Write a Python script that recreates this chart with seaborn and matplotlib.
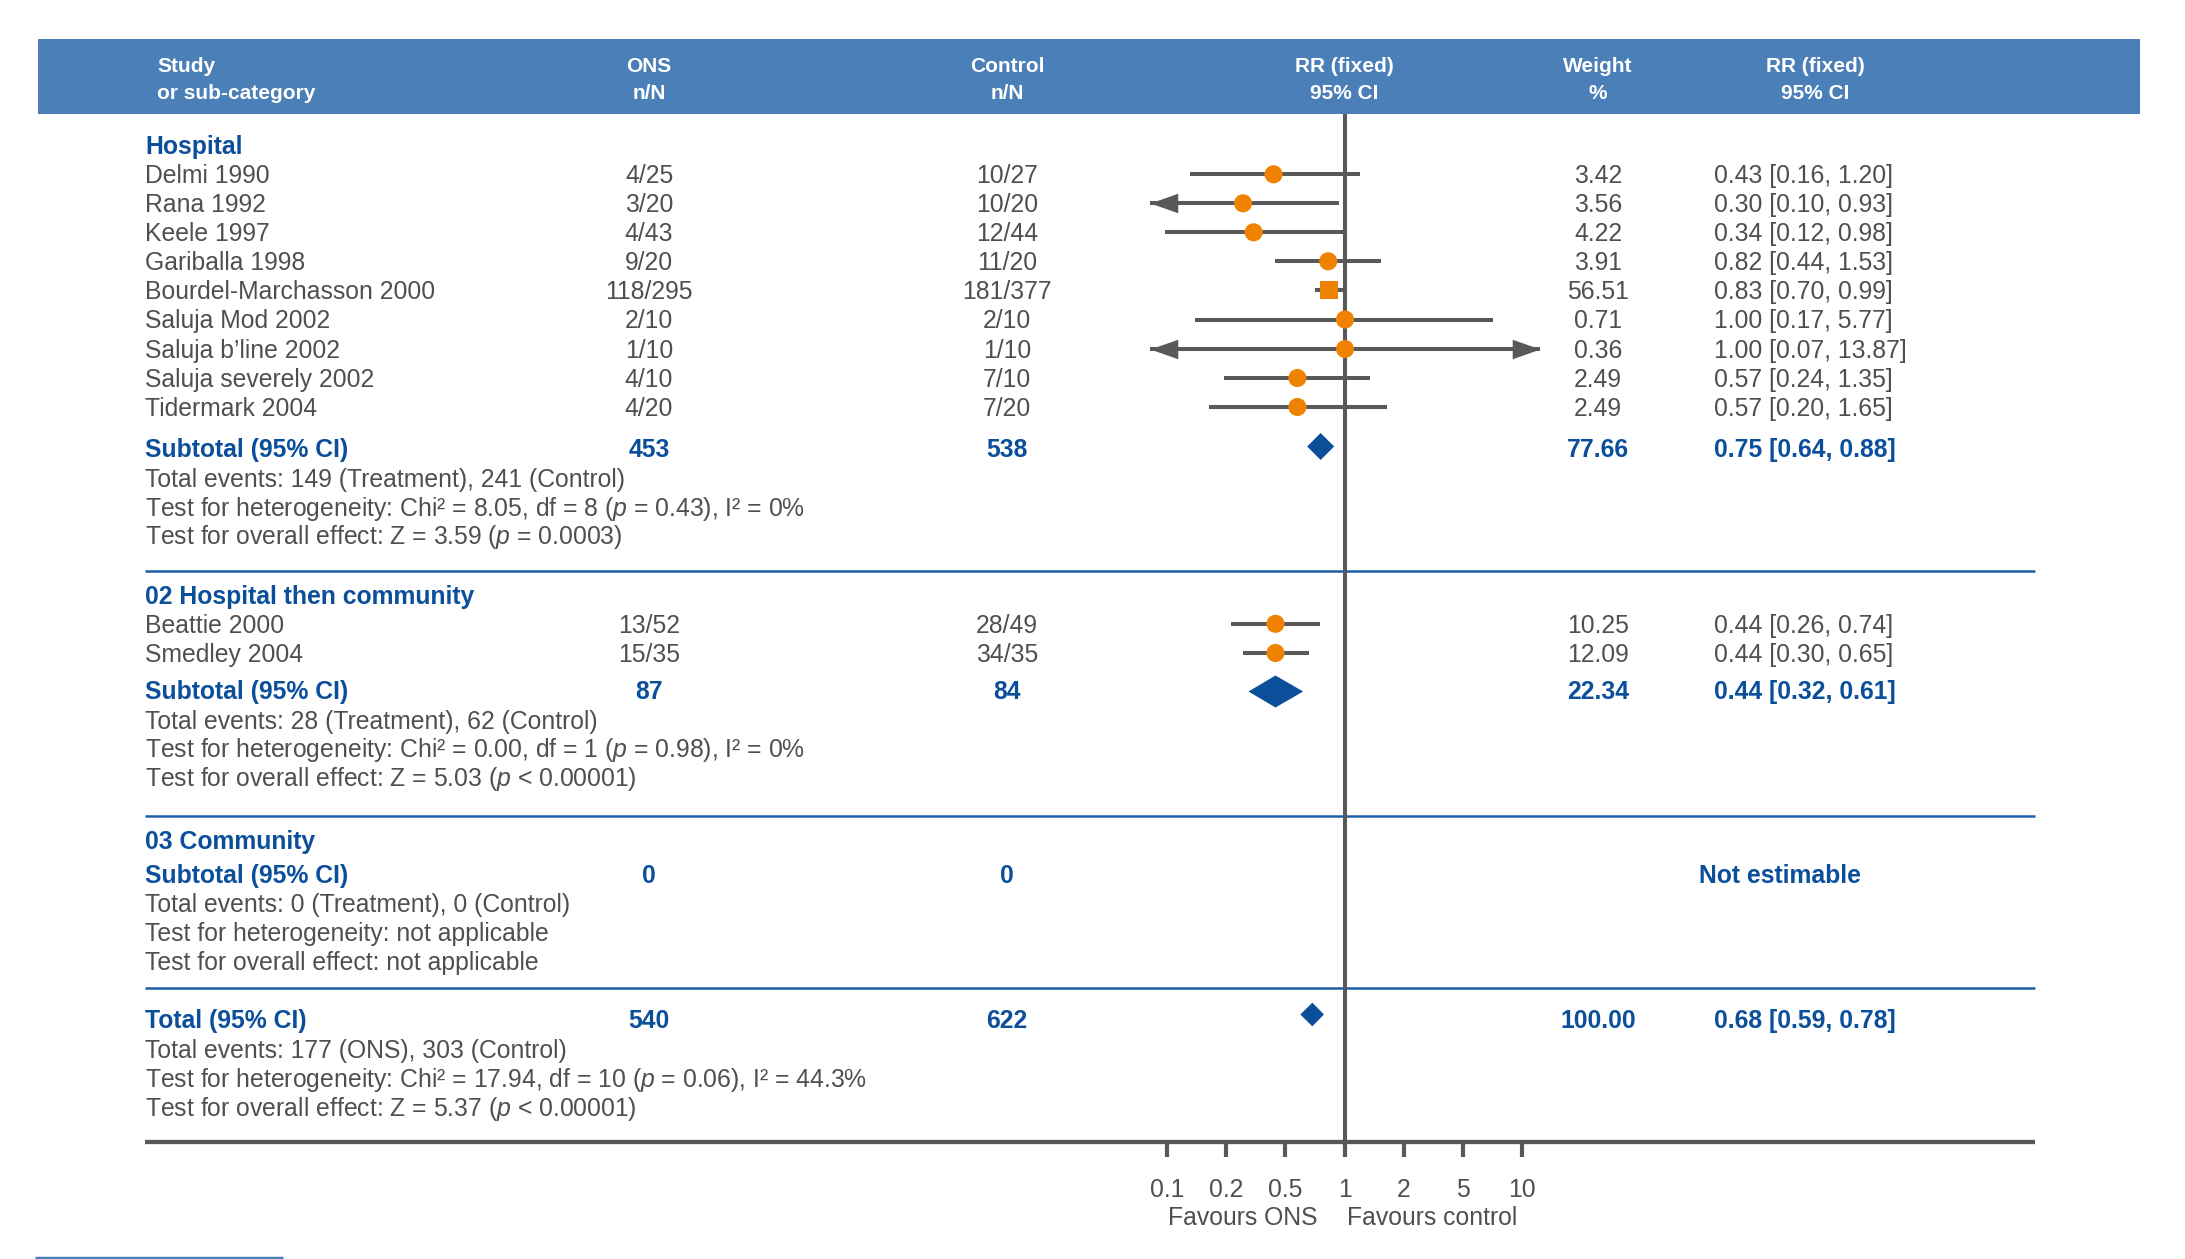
import matplotlib
matplotlib.use("Agg")
import matplotlib.pyplot as plt
import seaborn as sns
import numpy as np
import pandas as pd
from matplotlib.patches import Rectangle, Polygon

# ---------------- data ----------------
headers = ["Study\nor sub-category", "ONS\nn/N", "Control\nn/N", "RR (fixed)\n95% CI", "Weight\n%", "RR (fixed)\n95% CI"]

group_titles = ["Hospital", "02 Hospital then community", "03 Community"]

g1_studies = ["Delmi 1990", "Rana 1992", "Keele 1997", "Gariballa 1998", "Bourdel-Marchasson 2000",
              "Saluja Mod 2002", "Saluja b\u2019line 2002", "Saluja severely 2002", "Tidermark 2004"]
g1_ons = ["4/25", "3/20", "4/43", "9/20", "118/295", "2/10", "1/10", "4/10", "4/20"]
g1_ctrl = ["10/27", "10/20", "12/44", "11/20", "181/377", "2/10", "1/10", "7/10", "7/20"]
g1_weight = [3.42, 3.56, 4.22, 3.91, 56.51, 0.71, 0.36, 2.49, 2.49]
g1_rr = [0.43, 0.30, 0.34, 0.82, 0.83, 1.00, 1.00, 0.57, 0.57]
g1_lo = [0.16, 0.10, 0.12, 0.44, 0.70, 0.17, 0.07, 0.24, 0.20]
g1_hi = [1.20, 0.93, 0.98, 1.53, 0.99, 5.77, 13.87, 1.35, 1.65]

g2_studies = ["Beattie 2000", "Smedley 2004"]
g2_ons = ["13/52", "15/35"]
g2_ctrl = ["28/49", "34/35"]
g2_weight = [10.25, 12.09]
g2_rr = [0.44, 0.44]
g2_lo = [0.26, 0.30]
g2_hi = [0.74, 0.65]

sub_labels = ["Subtotal (95% CI)", "Subtotal (95% CI)", "Subtotal (95% CI)"]
sub_ons = [453, 87, 0]
sub_ctrl = [538, 84, 0]
sub_weight = [77.66, 22.34, None]
sub_rr = [0.75, 0.44, None]
sub_lo = [0.64, 0.32, None]
sub_hi = [0.88, 0.61, None]

total_label = "Total (95% CI)"
total_ons = 540
total_ctrl = 622
total_weight = 100.00
total_rr = 0.68
total_lo = 0.59
total_hi = 0.78

info_g1 = ["Total events: 149 (Treatment), 241 (Control)",
           "Test for heterogeneity: Chi\u00b2 = 8.05, df = 8 ($p$ = 0.43), I\u00b2 = 0%",
           "Test for overall effect: Z = 3.59 ($p$ = 0.0003)"]
info_g2 = ["Total events: 28 (Treatment), 62 (Control)",
           "Test for heterogeneity: Chi\u00b2 = 0.00, df = 1 ($p$ = 0.98), I\u00b2 = 0%",
           "Test for overall effect: Z = 5.03 ($p$ < 0.00001)"]
info_g3 = ["Total events: 0 (Treatment), 0 (Control)",
           "Test for heterogeneity: not applicable",
           "Test for overall effect: not applicable"]
info_total = ["Total events: 177 (ONS), 303 (Control)",
              "Test for heterogeneity: Chi\u00b2 = 17.94, df = 10 ($p$ = 0.06), I\u00b2 = 44.3%",
              "Test for overall effect: Z = 5.37 ($p$ < 0.00001)"]

tick_values = ["0.1", "0.2", "0.5", "1", "2", "5", "10"]
favours = ["Favours ONS", "Favours control"]
not_estimable = "Not estimable"

# ---------------- style ----------------
sns.set_theme(style="white")
plt.rcParams["font.family"] = ["Liberation Sans", "DejaVu Sans"]
plt.rcParams["mathtext.fontset"] = "custom"
plt.rcParams["mathtext.rm"] = "Liberation Sans"
plt.rcParams["mathtext.it"] = "Liberation Sans:italic"

GRAY = "#4f4f4f"
BLUE = "#0b4f9b"
ORANGE = "#ef8200"
LGRAY = "#595959"
HEAD = "#4a7fb8"
SEP = "#1d5ea8"
FS = 17.8
FSPX = FS * 100 / 72.0
CAPH = 0.358 * FSPX

W, H = 2185, 1259
fig = plt.figure(figsize=(W / 100, H / 100), dpi=100)
fig.patch.set_facecolor("white")

bg = fig.add_axes([0, 0, 1, 1])
bg.set_xlim(0, W)
bg.set_ylim(H, 0)
bg.axis("off")

# layout (pixel rows)
X_LEFT, X_ONS, X_CTRL, X_W, X_RR = 145, 649, 1007, 1598, 1714
y_g1_title = 145.5
y_g1 = [174.3, 203.3, 232.3, 261.3, 290.3, 319.5, 349.0, 378.0, 407.0]
y_sub = [448.5, 690.5, 874.0]
y_info = [[478, 507, 535.5], [720, 748.5, 777.5], [903.5, 932.5, 961.5]]
y_titles = [145.5, 595.5, 840.5]
y_g2 = [623.8, 653.0]
y_seps = [571, 815.5, 988]
y_total = 1019.5
y_info_total = [1049.3, 1078, 1107.3]
Y_AXIS = 1142

def txt(x, yc, s, ha="left", color=GRAY, bold=False, size=FS):
    bg.text(x, yc + 0.358 * size * 100 / 72.0, s, ha=ha, va="baseline", color=color,
            fontsize=size, fontweight="bold" if bold else "normal")

# header band
bg.add_patch(Rectangle((38, 39), 2102, 75, facecolor=HEAD, edgecolor="none"))
hx = [157, 649, 1007, 1344, 1598, 1815]
hha = ["left", "center", "center", "center", "center", "center"]
for x, s, ha in zip(hx, headers, hha):
    l1, l2 = s.split("\n")
    txt(x, 65, l1, ha=ha, color="white", bold=True, size=15)
    txt(x, 92, l2, ha=ha, color="white", bold=True, size=15)

# group titles
for yt, t in zip(y_titles, group_titles):
    txt(X_LEFT, yt, t, color=BLUE, bold=True)

# study rows text
def study_rows(names, ons, ctrl, wts, rr, lo, hi, ys):
    for n, o, c, w, r, l, h, y in zip(names, ons, ctrl, wts, rr, lo, hi, ys):
        txt(X_LEFT, y, n)
        txt(X_ONS, y, o, ha="center")
        txt(X_CTRL, y, c, ha="center")
        txt(X_W, y, f"{w:.2f}", ha="center")
        txt(X_RR, y, f"{r:.2f} [{l:.2f}, {h:.2f}]")

study_rows(g1_studies, g1_ons, g1_ctrl, g1_weight, g1_rr, g1_lo, g1_hi, y_g1)
study_rows(g2_studies, g2_ons, g2_ctrl, g2_weight, g2_rr, g2_lo, g2_hi, y_g2)

# subtotal rows
for i in range(3):
    y = y_sub[i]
    txt(X_LEFT, y, sub_labels[i], color=BLUE, bold=True)
    txt(X_ONS, y, str(sub_ons[i]), ha="center", color=BLUE, bold=True)
    txt(X_CTRL, y, str(sub_ctrl[i]), ha="center", color=BLUE, bold=True)
    if sub_rr[i] is not None:
        txt(X_W, y, f"{sub_weight[i]:.2f}", ha="center", color=BLUE, bold=True)
        txt(X_RR, y, f"{sub_rr[i]:.2f} [{sub_lo[i]:.2f}, {sub_hi[i]:.2f}]", color=BLUE, bold=True)
    else:
        txt(1699, y, not_estimable, color=BLUE, bold=True)

for infos, ys in zip([info_g1, info_g2, info_g3], y_info):
    for s, y in zip(infos, ys):
        txt(X_LEFT, y, s)

# total row
txt(X_LEFT, y_total, total_label, color=BLUE, bold=True)
txt(X_ONS, y_total, str(total_ons), ha="center", color=BLUE, bold=True)
txt(X_CTRL, y_total, str(total_ctrl), ha="center", color=BLUE, bold=True)
txt(X_W, y_total, f"{total_weight:.2f}", ha="center", color=BLUE, bold=True)
txt(X_RR, y_total, f"{total_rr:.2f} [{total_lo:.2f}, {total_hi:.2f}]", color=BLUE, bold=True)
for s, y in zip(info_total, y_info_total):
    txt(X_LEFT, y, s)

# separators and axis line
bg.hlines(y_seps, 145, 2035, color=SEP, lw=1.8)
bg.hlines(Y_AXIS, 145, 2035, color=LGRAY, lw=3.1)
bg.hlines(1257.5, 35, 283, color=HEAD, lw=2.5)

# ---------------- forest axes ----------------
X0, X1 = 1150, 1540
axf = fig.add_axes([X0 / W, 0, (X1 - X0) / W, 1])
axf.set_xscale("log")
axf.set_xlim(0.1, 10)
axf.set_ylim(H, 0)
axf.axis("off")

axf.vlines(1, 114, 1152, color=LGRAY, lw=2.9, zorder=2)

df = pd.DataFrame({
    "rr": g1_rr + g2_rr,
    "lo": g1_lo + g2_lo,
    "hi": g1_hi + g2_hi,
    "w": g1_weight + g2_weight,
    "y": y_g1 + y_g2,
})
df["shape"] = np.where(df["w"] > 50, "square", "circle")
xmin, xmax = axf.get_xlim()
axf.hlines(df["y"], np.maximum(df["lo"], xmin), np.minimum(df["hi"], xmax),
           color=LGRAY, lw=2.9, zorder=3)
left_arrow = [(0, 0), (1, 0.352), (1, -0.352)]
right_arrow = [(0, 0), (-1, 0.352), (-1, -0.352)]
for _, r in df.iterrows():
    if r["lo"] <= xmin:
        axf.plot([xmin], [r["y"]], marker=left_arrow, markersize=40, color=LGRAY,
                 markeredgewidth=0, clip_on=False, zorder=3)
    if r["hi"] >= xmax:
        axf.plot([xmax], [r["y"]], marker=right_arrow, markersize=40, color=LGRAY,
                 markeredgewidth=0, clip_on=False, zorder=3)

sns.scatterplot(data=df, x="rr", y="y", style="shape", markers={"circle": "o", "square": "s"},
                s=170, color=ORANGE, linewidth=0, legend=False, ax=axf, zorder=4, clip_on=False)
axf.set_xlim(0.1, 10)
axf.set_ylim(H, 0)
axf.axis("off")

px_per_decade = (X1 - X0) / 2.0
dm_rr = [sub_rr[0], sub_rr[1], total_rr]
dm_lo = [sub_lo[0], sub_lo[1], total_lo]
dm_hi = [sub_hi[0], sub_hi[1], total_hi]
dm_y = [y_sub[0] - 2, y_sub[1] + 1, y_total - 5]
for r, l, h, y in zip(dm_rr, dm_lo, dm_hi, dm_y):
    wpx = (np.log10(h) - np.log10(l)) * px_per_decade
    hh = min(wpx / 2.0, 16)
    axf.add_patch(Polygon([(l, y), (r, y - hh), (h, y), (r, y + hh)], closed=True,
                          facecolor=BLUE, edgecolor="none", zorder=4))

# ---------------- tick axis (equally spaced labels) ----------------
sp = (1522 - 1167) / 6.0
axt = fig.add_axes([X0 / W, (H - 1144) / H, (X1 - X0) / W, 0.0005])
axt.patch.set_alpha(0)
axt.set_xlim(-3 - (1167 - X0) / sp, 3 + (X1 - 1522) / sp)
axt.set_xticks(range(-3, 4))
axt.set_xticklabels(tick_values)
axt.set_yticks([])
for s in axt.spines.values():
    s.set_visible(False)
axt.tick_params(axis="x", bottom=True, direction="out", length=9.4, width=3.0,
                color=LGRAY, labelcolor=GRAY, labelsize=FS, pad=15)

txt(1317, 1216, favours[0], ha="right")
txt(1347, 1216, favours[1], ha="left")

fig.savefig("out.png", dpi=100, facecolor="white")
